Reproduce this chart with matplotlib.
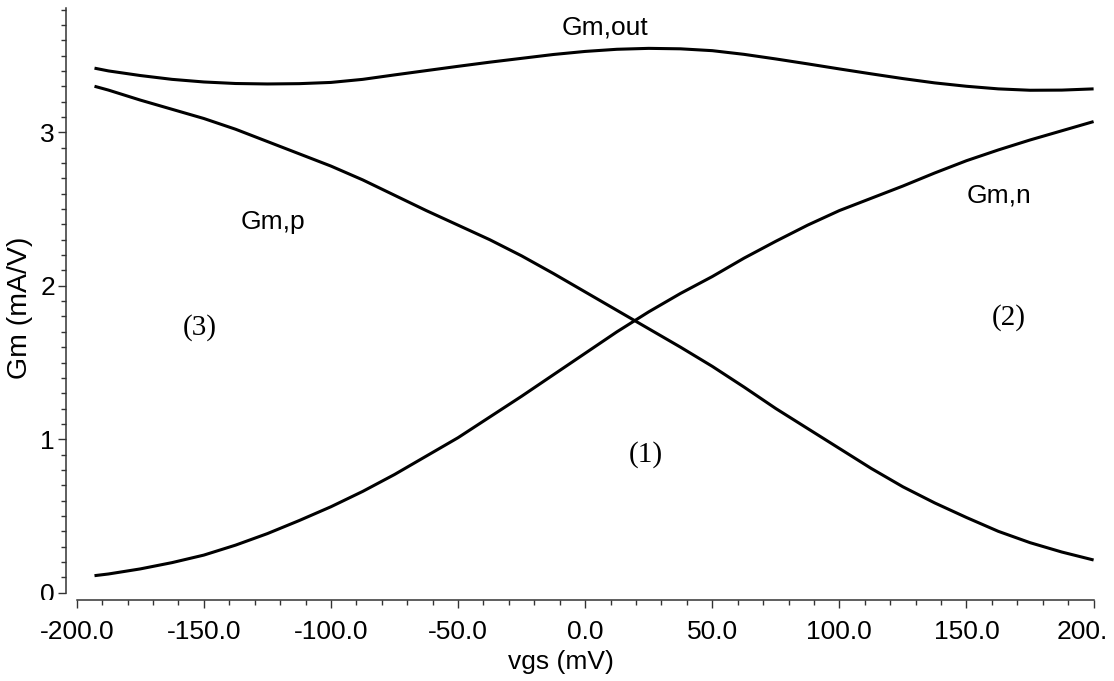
import matplotlib
matplotlib.use("Agg")
import matplotlib.pyplot as plt
from matplotlib.ticker import MultipleLocator, FixedLocator
from matplotlib.transforms import Bbox

# gate-source sweep (mV) and transconductances (mA/V)
vgs = [-193, -187.5, -175, -162.5, -150, -137.5, -125, -112.5, -100, -87.5, -75, -62.5,
       -50, -37.5, -25, -12.5, 0, 12.5, 25, 37.5, 50, 62.5, 75, 87.5, 100, 112.5, 125,
       137.5, 150, 162.5, 175, 187.5, 200]
gm_out = [3.418, 3.400, 3.370, 3.345, 3.328, 3.318, 3.315, 3.317, 3.325, 3.345, 3.374, 3.402,
          3.430, 3.457, 3.482, 3.507, 3.527, 3.541, 3.547, 3.544, 3.532, 3.508, 3.478, 3.446,
          3.413, 3.381, 3.350, 3.322, 3.300, 3.283, 3.274, 3.275, 3.283]
gm_p = [3.300, 3.275, 3.210, 3.150, 3.090, 3.020, 2.940, 2.860, 2.780, 2.690, 2.590, 2.490,
        2.395, 2.300, 2.195, 2.080, 1.960, 1.840, 1.720, 1.600, 1.475, 1.340, 1.200, 1.070,
        0.940, 0.810, 0.690, 0.585, 0.490, 0.400, 0.326, 0.265, 0.213]
gm_n = [0.111, 0.122, 0.155, 0.196, 0.245, 0.310, 0.385, 0.470, 0.560, 0.660, 0.770, 0.890,
        1.010, 1.145, 1.280, 1.420, 1.560, 1.700, 1.830, 1.950, 2.060, 2.180, 2.290, 2.395,
        2.490, 2.570, 2.650, 2.735, 2.815, 2.885, 2.950, 3.010, 3.070]

xticks = [-200, -150, -100, -50, 0, 50, 100, 150, 200]
xticklabels = ["-200.0", "-150.0", "-100.0", "-50.0", "0.0", "50.0", "100.0", "150.0", ""]
yticks = [0, 1, 2, 3]

sans = "Liberation Sans"
serif = "Liberation Serif"

W, H = 1114, 681
fig = plt.figure(figsize=(W / 100, H / 100), dpi=100)
ax = fig.add_axes([76.7 / W, 1 - 592.7 / H, (1093.6 - 76.7) / W, (592.7 - 8) / H])

for y in (gm_out, gm_p, gm_n):
    ax.plot(vgs, y, color="black", lw=2.2, solid_capstyle="butt", solid_joinstyle="round")

ax.set_xlim(-200, 200)
ax.set_ylim(0, 3.81)

for s in ("top", "right"):
    ax.spines[s].set_visible(False)
ax.spines["left"].set_position(("outward", 7.7))
ax.spines["bottom"].set_position(("outward", 5.3))
for s in ("left", "bottom"):
    ax.spines[s].set_color("#333333")
    ax.spines[s].set_linewidth(1.1)

ax.xaxis.set_major_locator(FixedLocator(xticks))
ax.set_xticklabels(xticklabels)
ax.xaxis.set_minor_locator(MultipleLocator(10))
ax.yaxis.set_major_locator(FixedLocator(yticks))
ax.yaxis.set_minor_locator(MultipleLocator(0.1))

ax.tick_params(which="both", direction="out", color="#333333", width=1.0)
ax.tick_params(which="major", length=6)
ax.tick_params(which="minor", length=3.5)
ax.tick_params(axis="x", which="major", pad=8, labelsize=19)
ax.tick_params(axis="y", which="major", pad=2, labelsize=19)
for lab in ax.get_xticklabels() + ax.get_yticklabels():
    lab.set_family(sans)

# last x label sits squeezed against the right edge
ax.annotate("200.", xy=(200, 0), xycoords=("data", "axes fraction"),
            xytext=(10.5, -19.3), textcoords="offset points",
            ha="right", va="top", fontsize=19, family=sans)

ax.set_xlabel("vgs (mV)", fontsize=19, family=sans)
ax.xaxis.set_label_coords(0.476, -0.098)
ax.set_ylabel("Gm (mA/V)", fontsize=20.5, family=sans)
ax.yaxis.set_label_coords(-0.043, 0.487)

# the "0" label gets cut by the x axis line
zero = ax.yaxis.get_major_ticks()[0].label1
zero.set_clip_box(Bbox([[0, H - 600], [W, H]]))
zero.set_clip_on(True)

# curve names and region markers
ax.text(8.0, 3.68, "Gm,out", fontsize=19, family=sans, ha="center", va="center")
ax.text(-123, 2.415, "Gm,p", fontsize=19, family=sans, ha="center", va="center")
ax.text(162.7, 2.59, "Gm,n", fontsize=19, family=sans, ha="center", va="center")
ax.text(-151.5, 1.73, "(3)", fontsize=21, family=serif, ha="center", va="center")
ax.text(166.7, 1.79, "(2)", fontsize=21, family=serif, ha="center", va="center")
ax.text(23.7, 0.90, "(1)", fontsize=21, family=serif, ha="center", va="center")

fig.savefig("out.png", dpi=100)
